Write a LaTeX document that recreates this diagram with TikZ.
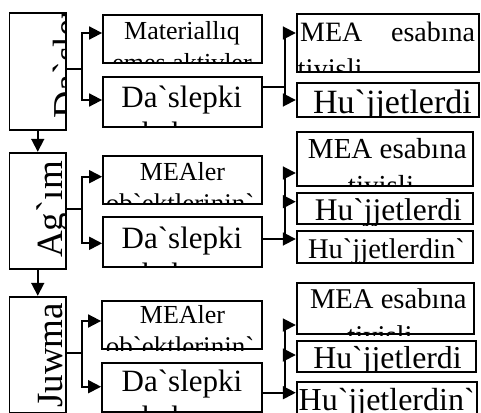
\documentclass[tikz,border=0pt]{standalone}
\usepackage{fontspec}
\setmainfont{Liberation Serif}[Ligatures=TeXOff]
\usetikzlibrary{arrows.meta}
\newcommand\fs[1]{\fontsize{#1}{#1}\selectfont}
\newcommand\mkbox[5]{\node[bx, minimum width={#4-#2}, minimum height={#5-#3}] (#1) at ({(#2+#4)/2},{(#3+#5)/2}) {};}
\newcommand\tx[5]{\node[txt, font=\fs{#4}] (#1) at (#2,#3) {#5};}
\newcommand\clipto[1]{\clip (#1.south west) rectangle (#1.north east);}
\begin{document}
\begin{tikzpicture}[x=1pt,y=-1pt,
  bx/.style={draw, line width=1.8pt, inner sep=0pt, rectangle},
  txt/.style={inner sep=0pt, anchor=base},
  conn/.style={line width=1.8pt},
  arr/.style={conn, -{Triangle[length=13pt,width=13pt]}}]
\useasboundingbox (0,0) rectangle (481,412);
\clip (0,0) rectangle (481,412);
\fill[white] (0,0) rectangle (481,412);

% left column
\mkbox{L1}{9.5}{13}{66}{130}
\mkbox{L2}{9.5}{152.7}{66}{269}
\mkbox{L3}{9.5}{296.7}{66}{413}
% middle column
\mkbox{M1}{103}{15}{261.7}{63}
\mkbox{M2}{103}{77}{261.7}{126.7}
\mkbox{M3}{103}{156}{261.7}{204}
\mkbox{M4}{103}{217.3}{261.7}{266.7}
\mkbox{M5}{102}{300.7}{261.7}{349.3}
\mkbox{M6}{102}{362.7}{261.7}{411.7}
% right column
\mkbox{R1}{296.7}{14}{479}{71.7}
\mkbox{R2}{296.7}{82.7}{479}{116.7}
\mkbox{R3}{296.7}{131.7}{472.7}{186}
\mkbox{R4}{296.7}{192.7}{472.7}{224.3}
\mkbox{R5}{296.7}{231}{472.7}{262.7}
\mkbox{R6}{296.7}{283.3}{474.3}{334.3}
\mkbox{R7}{296.7}{340.7}{476}{371.7}
\mkbox{R8}{296.7}{382}{477.3}{414}

% texts (clipped to their boxes)
\begin{scope}\clipto{L1}
\node[inner sep=0pt, rotate=90, anchor=base west, font=\fs{38}] (L1t) at (79,119) {Da`slepki};
\end{scope}
\begin{scope}\clipto{L2}
\node[inner sep=0pt, rotate=90, anchor=base west, font=\fs{37}] (L2t) at (62,258) {Ag`ım};
\end{scope}
\begin{scope}\clipto{L3}
\node[inner sep=0pt, rotate=90, anchor=base west, font=\fs{37}] (L3t) at (62,408) {Juwma};
\end{scope}

\begin{scope}\clipto{M1}
\tx{M1a}{182}{39.3}{26}{Materiallıq}
\tx{M1b}{182}{71.3}{26}{emes aktivler}
\end{scope}
\begin{scope}\clipto{M2}
\tx{M2a}{181.7}{107.3}{31}{Da`slepki}
\tx{M2b}{182}{143}{31}{bahası}
\end{scope}
\begin{scope}\clipto{M3}
\tx{M3a}{182.5}{180.7}{26}{MEAler}
\tx{M3b}{180}{212.7}{27}{ob`ektlerinin`}
\end{scope}
\begin{scope}\clipto{M4}
\tx{M4a}{182}{248.3}{31}{Da`slepki}
\tx{M4b}{182}{284}{31}{bahası}
\end{scope}
\begin{scope}\clipto{M5}
\tx{M5a}{182.5}{323.3}{26}{MEAler}
\tx{M5b}{180}{355.3}{27}{ob`ektlerinin`}
\end{scope}
\begin{scope}\clipto{M6}
\tx{M6a}{182}{391.7}{31}{Da`slepki}
\tx{M6b}{182}{427}{31}{bahası}
\end{scope}

\begin{scope}\clipto{R1}
\node[inner sep=0pt, anchor=base west, font=\fs{28}] (R1a) at (300,41.7) {MEA};
\node[inner sep=0pt, anchor=base east, font=\fs{28}] (R1b) at (475.3,41.7) {esabına};
\node[inner sep=0pt, anchor=base west, font=\fs{28.5}] (R1c) at (297.5,78.7) {tiyisli};
\end{scope}
\begin{scope}\clipto{R2}
\tx{R2a}{392.5}{113.3}{34}{Hu`jjetlerdi}
\end{scope}
\begin{scope}\clipto{R3}
\tx{R3a}{387.3}{158.3}{29}{MEA esabına}
\tx{R3b}{381}{195.5}{29}{tiyisli}
\end{scope}
\begin{scope}\clipto{R4}
\tx{R4a}{388.3}{220.7}{31.5}{Hu`jjetlerdi}
\end{scope}
\begin{scope}\clipto{R5}
\tx{R5a}{386.5}{258.3}{28.5}{Hu`jjetlerdin`}
\end{scope}
\begin{scope}\clipto{R6}
\tx{R6a}{388.3}{308.3}{28.6}{MEA esabına}
\tx{R6b}{380}{345.3}{28.6}{tiyisli}
\end{scope}
\begin{scope}\clipto{R7}
\tx{R7a}{387.5}{368.3}{31.8}{Hu`jjetlerdi}
\end{scope}
\begin{scope}\clipto{R8}
\tx{R8a}{386.7}{410}{32}{Hu`jjetlerdin`}
\end{scope}

% vertical arrows in left column
\draw[arr] (L1.south) -- (L2.north);
\draw[arr] (L2.south) -- (L3.north);

% left forks
\coordinate (j1) at (82,69);
\coordinate (a1) at (82,33);
\coordinate (a2) at (82,100);
\draw[conn] (L1.east|-j1) -- (j1);
\draw[arr] (j1) |- (M1.west|-a1);
\draw[arr] (j1) |- (M2.west|-a2);

\coordinate (j2) at (82,209);
\coordinate (a3) at (82,176.7);
\coordinate (a4) at (82,243.3);
\draw[conn] (L2.east|-j2) -- (j2);
\draw[arr] (j2) |- (M3.west|-a3);
\draw[arr] (j2) |- (M4.west|-a4);

\coordinate (j3) at (82,353.3);
\coordinate (a5) at (82,321);
\coordinate (a6) at (82,386.7);
\draw[conn] (L3.east|-j3) -- (j3);
\draw[arr] (j3) |- (M5.west|-a5);
\draw[arr] (j3) |- (M6.west|-a6);

% right forks
\coordinate (k1) at (285,86.7);
\coordinate (b1) at (285,33);
\coordinate (b2) at (285,100);
\draw[conn] (M2.east|-k1) -- (k1);
\draw[arr] (k1) |- (R1.west|-b1);
\draw[arr] (k1) |- (R2.west|-b2);

\coordinate (k2) at (285,239);
\coordinate (b3) at (285,173);
\coordinate (b4) at (285,201.7);
\draw[arr] (M4.east|-k2) -- (R5.west|-k2);
\draw[arr] (k2) |- (R3.west|-b3);
\draw[arr] (k2) |- (R4.west|-b4);

\coordinate (k3) at (285,392.7);
\coordinate (b5) at (285,325);
\coordinate (b6) at (285,355);
\draw[arr] (M6.east|-k3) -- (R8.west|-k3);
\draw[arr] (k3) |- (R6.west|-b5);
\draw[arr] (k3) |- (R7.west|-b6);
\end{tikzpicture}
\end{document}
